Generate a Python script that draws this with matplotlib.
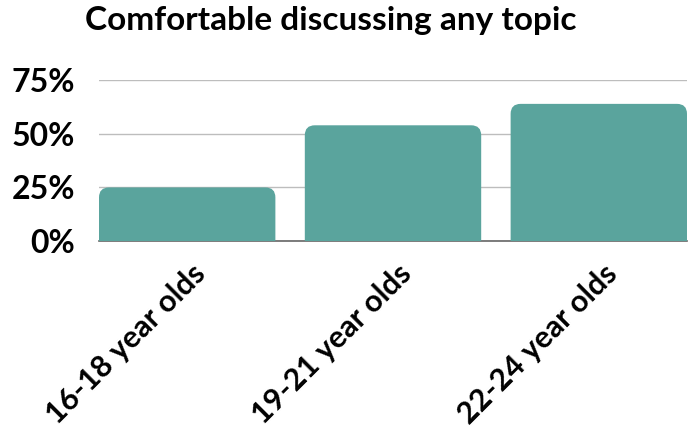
import numpy as np
import matplotlib
matplotlib.use('Agg')
import matplotlib.pyplot as plt
from matplotlib.path import Path
from matplotlib.patches import PathPatch
import matplotlib.transforms as mtransforms

# data
groups = ['16-18 year olds', '19-21 year olds', '22-24 year olds']
comfortable = [25, 54, 64]
yticks = [0, 25, 50, 75]
ytick_labels = ['0%', '25%', '50%', '75%']
title = 'Comfortable discussing any topic'

bar_color = '#5aa49d'
plt.rcParams['font.family'] = ['Lato', 'DejaVu Sans']

fig = plt.figure(figsize=(6.88, 4.33), dpi=100)
ax = fig.add_axes([99/688, 1-241/433, 588/688, (241-80.3)/433])

x = np.arange(len(groups))
width = 0.857
bars = ax.bar(x, comfortable, width=width, color=bar_color, zorder=2)
ax.set_xlim(-width/2, len(groups)-1+width/2)
ax.set_ylim(0, 75)

# swap plain rectangles for ones with rounded top corners
fig.canvas.draw()
px_x = ax.transData.transform((1, 0))[0]-ax.transData.transform((0, 0))[0]
px_y = ax.transData.transform((0, 1))[1]-ax.transData.transform((0, 0))[1]
r = 10.0
rx = r/px_x
ry = r/px_y
for b in bars:
  x0 = b.get_x()
  x1 = x0+b.get_width()
  h = b.get_height()
  verts = [(x0, 0), (x0, h-ry), (x0, h), (x0+rx, h), (x1-rx, h), (x1, h), (x1, h-ry), (x1, 0), (x0, 0)]
  codes = [Path.MOVETO, Path.LINETO, Path.CURVE3, Path.CURVE3, Path.LINETO,
           Path.CURVE3, Path.CURVE3, Path.LINETO, Path.CLOSEPOLY]
  ax.add_patch(PathPatch(Path(verts, codes), facecolor=bar_color, edgecolor='none', zorder=2))
  b.set_visible(False)

ax.set_yticks(yticks)
ax.set_yticklabels(ytick_labels, fontsize=23, fontweight='bold')
ax.tick_params(axis='y', length=0, pad=17)
ax.grid(axis='y', color='#bdbdbd', linewidth=1, zorder=0)
ax.set_axisbelow(True)
for s in ['top', 'right', 'left']:
  ax.spines[s].set_visible(False)
ax.spines['bottom'].set_color('#666666')
ax.spines['bottom'].set_linewidth(1.2)
ax.spines['bottom'].set_zorder(1)

ax.set_xticks(x)
ax.set_xticklabels(groups, fontsize=22, fontweight='bold', rotation=45,
                   ha='right', va='center', rotation_mode='anchor')
ax.tick_params(axis='x', length=0, pad=0)
offset = mtransforms.ScaledTranslation(14/100, -28/100, fig.dpi_scale_trans)
for lab in ax.get_xticklabels():
  lab.set_transform(lab.get_transform()+offset)

fig.text(85/688, 1-30/433, title, fontsize=24, fontweight='bold', ha='left', va='baseline')

fig.savefig('out.png', dpi=100)
